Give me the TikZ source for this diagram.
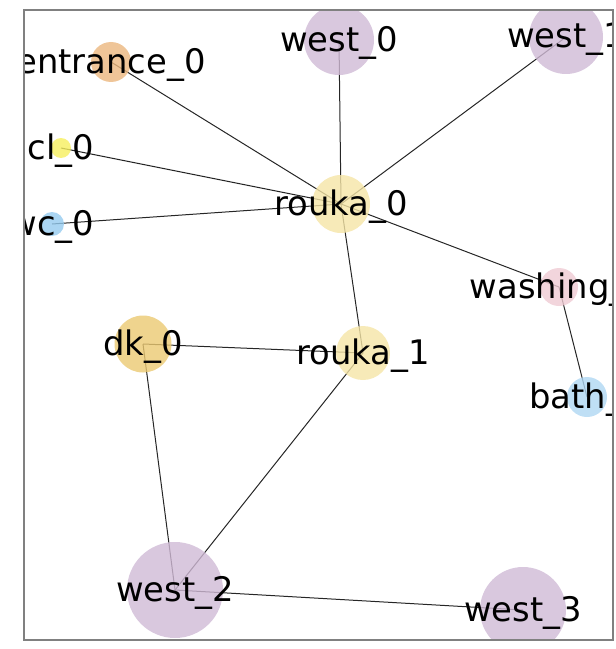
\documentclass[tikz,border=0pt]{standalone}
\usepackage{fontspec}
\setmainfont{DejaVu Sans}
\usepackage{tikz}

\pgfdeclarelayer{edges}
\pgfsetlayers{edges,main}

\definecolor{westc}{RGB}{208,186,214}
\definecolor{roukac}{RGB}{245,229,166}
\definecolor{dkc}{RGB}{235,201,114}
\definecolor{entrancec}{RGB}{235,183,126}
\definecolor{clc}{RGB}{246,239,94}
\definecolor{wcc}{RGB}{149,203,239}
\definecolor{washingc}{RGB}{239,203,211}
\definecolor{bathc}{RGB}{175,215,243}

\begin{document}
\begin{tikzpicture}[x = 1bp, y = -1bp]
  \tikzstyle{every label} = [font = \fontsize{33.8bp}{40bp}\selectfont,
                             text = black, opacity = 1, inner sep = 0,
                             yshift = -2.5bp]
\tikzset{VertexStyle/.style = {circle, inner sep = 0, draw = none,
                               fill = #1, fill opacity = 0.8, text opacity = 1}}
\tikzset{EdgeStyle/.style = {draw = black!85, line width = 1bp}}
\tikzset{FrameStyle/.style = {draw = black!50, line width = 1.5bp}}

\useasboundingbox (0,0) rectangle (616,649);

\begin{scope}
\clip (24,10) rectangle (613,640);
\node[VertexStyle = westc, minimum size = 70bp, label = center:west\_0] (West0) at (339,40) {};
\node[VertexStyle = westc, minimum size = 74bp, label = center:west\_1] (West1) at (566,37) {};
\node[VertexStyle = entrancec, minimum size = 40bp, label = center:entrance\_0] (Entrance0) at (111,62) {};
\node[VertexStyle = clc, minimum size = 20bp, label = center:cl\_0] (Cl0) at (61,148) {};
\node[VertexStyle = wcc, minimum size = 24bp, label = center:wc\_0] (Wc0) at (52,224) {};
\node[VertexStyle = roukac, minimum size = 58bp, label = center:rouka\_0] (Rouka0) at (341,204) {};
\node[VertexStyle = washingc, minimum size = 38bp, label = center:washing\_0] (Washing0) at (559,287) {};
\node[VertexStyle = bathc, minimum size = 40bp, label = center:bath\_0] (Bath0) at (587,397) {};
\node[VertexStyle = dkc, minimum size = 57bp, label = center:dk\_0] (Dk0) at (143,344) {};
\node[VertexStyle = roukac, minimum size = 54bp, label = center:rouka\_1] (Rouka1) at (363,353) {};
\node[VertexStyle = westc, minimum size = 96bp, label = center:west\_2] (West2) at (175,590) {};
\node[VertexStyle = westc, minimum size = 86bp, label = center:west\_3] (West3) at (523,610) {};

\begin{pgfonlayer}{edges}
\draw[EdgeStyle] (Rouka0.center) -- (Entrance0.center);
\draw[EdgeStyle] (Rouka0.center) -- (Cl0.center);
\draw[EdgeStyle] (Rouka0.center) -- (Wc0.center);
\draw[EdgeStyle] (Rouka0.center) -- (West0.center);
\draw[EdgeStyle] (Rouka0.center) -- (West1.center);
\draw[EdgeStyle] (Rouka0.center) -- (Washing0.center);
\draw[EdgeStyle] (Rouka0.center) -- (Rouka1.center);
\draw[EdgeStyle] (Washing0.center) -- (Bath0.center);
\draw[EdgeStyle] (Rouka1.center) -- (Dk0.center);
\draw[EdgeStyle] (Rouka1.center) -- (West2.center);
\draw[EdgeStyle] (Dk0.center) -- (West2.center);
\draw[EdgeStyle] (West2.center) -- (West3.center);
\end{pgfonlayer}
\end{scope}

\draw[FrameStyle] (24,10) rectangle (613,640);

\end{tikzpicture}
\end{document}
